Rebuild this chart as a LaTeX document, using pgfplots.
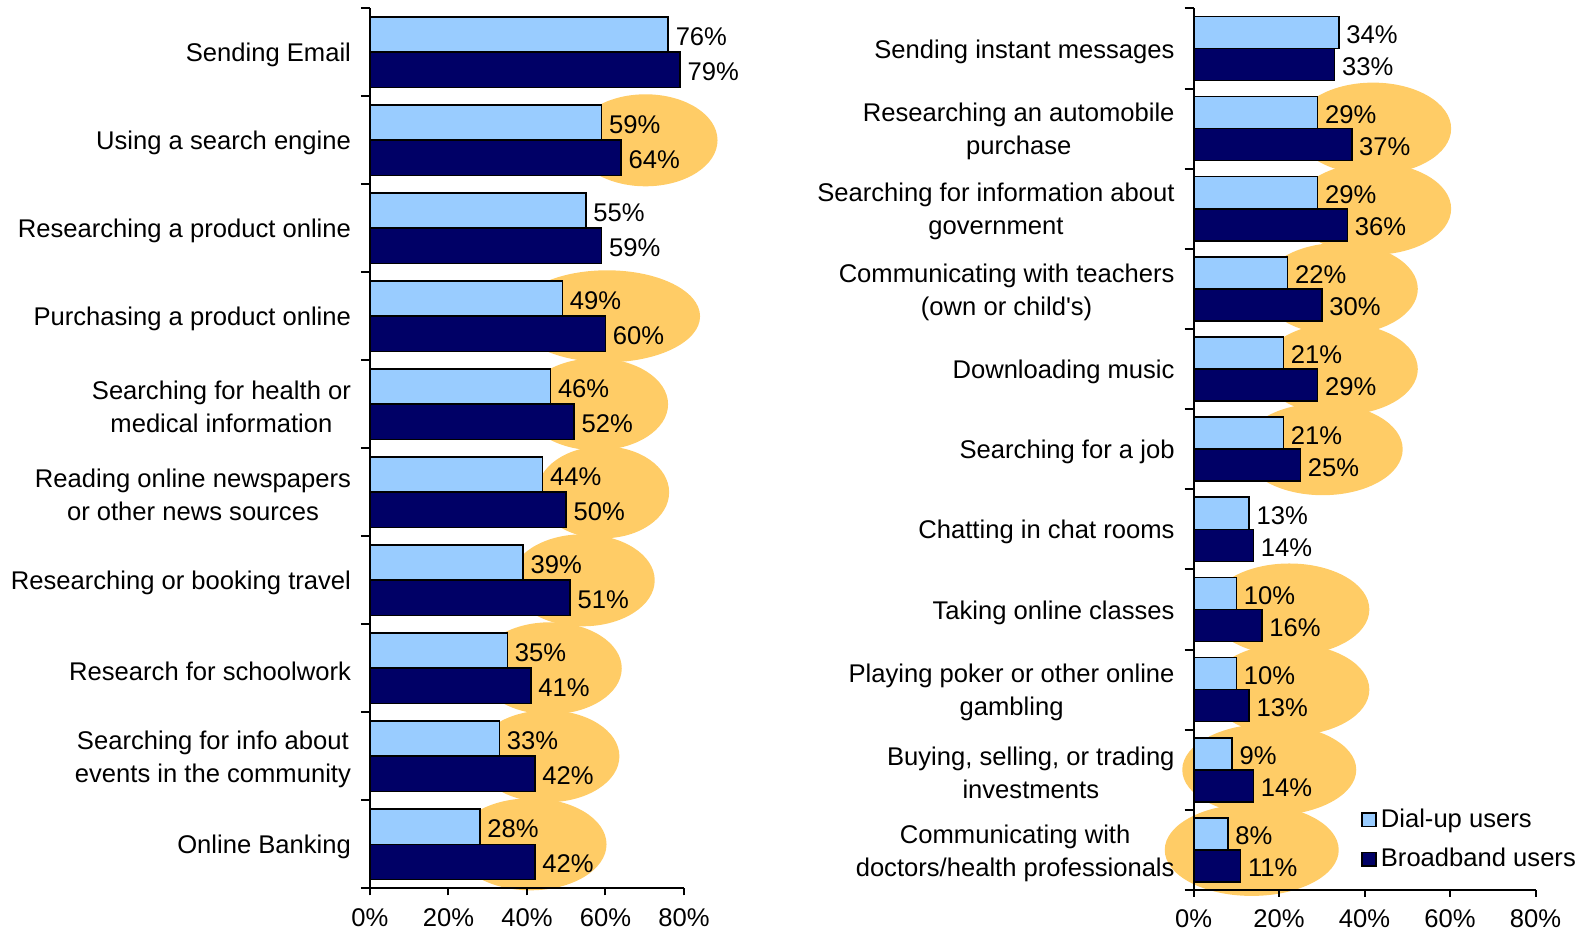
\documentclass[border=0pt]{standalone}
\usepackage{pgfplots}
\usepackage{pgfplotstable}
\pgfplotsset{compat=1.18}
\usepackage{fontspec}
\setmainfont{Liberation Sans}
\definecolor{dial}{HTML}{99CCFF}
\definecolor{broad}{HTML}{000066}
\definecolor{ell}{HTML}{FFCC66}
\newcommand{\lbl}{\fontsize{12.8}{16.5}\selectfont}
\pgfdeclareplotmark{hell}{%
  \pgfpathellipse{\pgfpointorigin}{\pgfqpoint{\pgfplotmarksize}{0pt}}{\pgfqpoint{0pt}{23pt}}%
  \pgfusepathqfill}

\pgfplotstableread{
pos dial broad
10 76 79
9 59 64
8 55 59
7 49 60
6 46 52
5 44 50
4 39 51
3 35 41
2 33 42
1 28 42
}\leftdata
\pgfplotstableread{
pos dial broad
11 34 33
10 29 37
9 29 36
8 22 30
7 21 29
6 21 25
5 13 14
4 10 16
3 10 13
2 9 14
1 8 11
}\rightdata

\pgfplotsset{
  panel/.style={
    scale only axis, anchor=south west,
    xmin=0, xmax=80,
    axis x line*=bottom, axis y line*=left,
    axis on top, clip=false, clip marker paths=true,
    xtick={0,20,40,60,80}, xticklabels={0\%,20\%,40\%,60\%,80\%},
    tick align=outside, major tick length=3.5pt, minor tick length=4.5pt,
    major y tick style={draw=none},
    tick style={black, line width=1pt},
    axis line style={black, line width=1.1pt},
    yticklabel style={font=\lbl, align=center, xshift=-2.5pt, yshift=-1.5pt},
    xticklabel style={font=\lbl, yshift=-4.3pt, inner sep=2pt},
    /pgf/number format/assume math mode=true,
  },
  dialbar/.style={xbar, bar width=0.4, bar shift=0pt, fill=dial, draw=black,
    line width=0.8pt, point meta=x,
    nodes near coords={\pgfmathprintnumber{\pgfplotspointmeta}\%},
    nodes near coords style={font=\lbl, anchor=west, black, yshift=-1pt},
    legend image code/.code={\draw[fill=dial,draw=black,line width=0.8pt] (0pt,-3.4pt) rectangle (7.2pt,3.4pt);}},
  broadbar/.style={xbar, bar width=0.4, bar shift=0pt, fill=broad, draw=black,
    line width=0.8pt, point meta=x,
    nodes near coords={\pgfmathprintnumber{\pgfplotspointmeta}\%},
    nodes near coords style={font=\lbl, anchor=west, black, yshift=-1pt},
    legend image code/.code={\draw[fill=broad,draw=black,line width=0.8pt] (0pt,-3.4pt) rectangle (7.2pt,3.4pt);}},
  ellplot/.style={only marks, mark=hell, forget plot, draw=none, fill=ell,
    mark options={draw=none, fill=ell}},
}

\begin{document}
\begin{tikzpicture}
\useasboundingbox (0,0) rectangle (790pt,466pt);
\begin{axis}[panel, at={(185pt,21.85pt)}, width=157pt, height=440pt,
  ymin=0.5, ymax=10.5,
  ytick={1,...,10},
  minor ytick={0.5,1.5,...,10.5},
  yticklabels={{Online Banking},
    {Searching for info about\\events in the community},
    {Research for schoolwork},
    {Researching or booking travel},
    {Reading online newspapers\\or other news sources},
    {Searching for health or\\medical information},
    {Purchasing a product online},
    {Researching a product online},
    {Using a search engine},
    {Sending Email}},
]
\addplot[ellplot, mark size=36] coordinates {(70.2,9) (57.6,6) (54.2,4) (45.8,3) (45.2,2)};
\addplot[ellplot, mark size=38] coordinates {(40.9,1)};
\addplot[ellplot, mark size=46.5] coordinates {(60.4,7)};
\addplot[ellplot, mark size=33] coordinates {(59.4,5)};
\addplot[dialbar] table[x=dial, y expr=\thisrow{pos}+0.2] {\leftdata};
\addplot[broadbar] table[x=broad, y expr=\thisrow{pos}-0.2] {\leftdata};
\end{axis}
\begin{axis}[panel, at={(596.8pt,21pt)}, width=171pt, height=440.8pt,
  ymin=0.5, ymax=11.5,
  ytick={1,...,11},
  minor ytick={0.5,1.5,...,11.5},
  yticklabels={{Communicating with\\doctors/health professionals},
    {Buying, selling, or trading\\investments},
    {Playing poker or other online\\gambling},
    {Taking online classes},
    {Chatting in chat rooms},
    {Searching for a job},
    {Downloading music},
    {Communicating with teachers\\(own or child\textquotesingle s)},
    {Searching for information about\\government},
    {Researching an automobile\\purchase},
    {Sending instant messages}},
  legend style={at={(0.488,0.097)}, anchor=north west, draw=none, fill=none,
    font=\lbl, row sep=5pt, inner sep=0pt},
  legend cell align=left,
]
\addplot[ellplot, mark size=39] coordinates {(42.0,10) (42.0,9) (34.2,8) (34.2,7)};
\addplot[ellplot, mark size=40] coordinates {(30.2,6) (22.4,4) (22.4,3)};
\addplot[ellplot, mark size=43.5] coordinates {(17.7,2) (13.6,1)};
\addplot[dialbar] table[x=dial, y expr=\thisrow{pos}+0.2] {\rightdata};
\addlegendentry{Dial-up users}
\addplot[broadbar] table[x=broad, y expr=\thisrow{pos}-0.2] {\rightdata};
\addlegendentry{Broadband users}
\end{axis}
\end{tikzpicture}
\end{document}
